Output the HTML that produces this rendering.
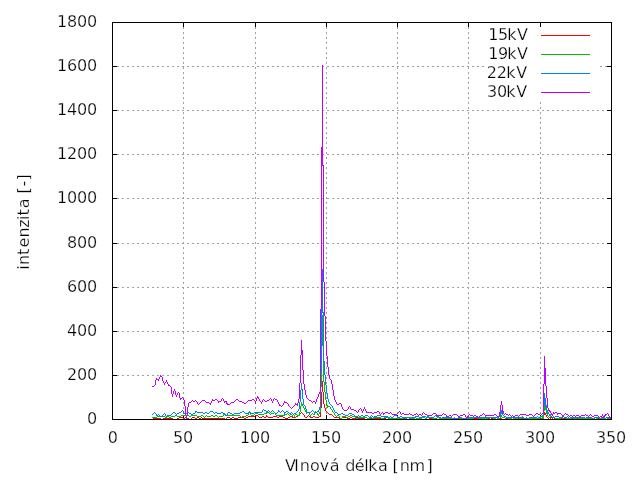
<!DOCTYPE html>
<html lang="cs"><head><meta charset="utf-8"><title>Spektrum</title>
<style>
html,body{margin:0;padding:0;background:#fff;overflow:hidden}
svg{display:block}
text{font-family:"DejaVu Sans","Liberation Sans",sans-serif;font-size:16px;fill:#000;stroke:#fff;stroke-width:0.25px;paint-order:fill stroke;white-space:pre}
</style></head><body>
<svg width="640" height="480" viewBox="0 0 640 480">
<rect width="640" height="480" fill="#fff"/>
<g shape-rendering="crispEdges">
<path fill="#a0a0a0" d="M112 375h2v1h-2zM117 375h2v1h-2zM122 375h2v1h-2zM127 375h2v1h-2zM132 375h2v1h-2zM137 375h2v1h-2zM142 375h2v1h-2zM147 375h2v1h-2zM152 375h2v1h-2zM157 375h2v1h-2zM162 375h2v1h-2zM167 375h2v1h-2zM172 375h2v1h-2zM177 375h2v1h-2zM182 375h2v1h-2zM187 375h2v1h-2zM192 375h2v1h-2zM197 375h2v1h-2zM202 375h2v1h-2zM207 375h2v1h-2zM212 375h2v1h-2zM217 375h2v1h-2zM222 375h2v1h-2zM227 375h2v1h-2zM232 375h2v1h-2zM237 375h2v1h-2zM242 375h2v1h-2zM247 375h2v1h-2zM252 375h2v1h-2zM257 375h2v1h-2zM262 375h2v1h-2zM267 375h2v1h-2zM272 375h2v1h-2zM277 375h2v1h-2zM282 375h2v1h-2zM287 375h2v1h-2zM292 375h2v1h-2zM297 375h2v1h-2zM302 375h2v1h-2zM307 375h2v1h-2zM312 375h2v1h-2zM317 375h2v1h-2zM322 375h2v1h-2zM327 375h2v1h-2zM332 375h2v1h-2zM337 375h2v1h-2zM342 375h2v1h-2zM347 375h2v1h-2zM352 375h2v1h-2zM357 375h2v1h-2zM362 375h2v1h-2zM367 375h2v1h-2zM372 375h2v1h-2zM377 375h2v1h-2zM382 375h2v1h-2zM387 375h2v1h-2zM392 375h2v1h-2zM397 375h2v1h-2zM402 375h2v1h-2zM407 375h2v1h-2zM412 375h2v1h-2zM417 375h2v1h-2zM422 375h2v1h-2zM427 375h2v1h-2zM432 375h2v1h-2zM437 375h2v1h-2zM442 375h2v1h-2zM447 375h2v1h-2zM452 375h2v1h-2zM457 375h2v1h-2zM462 375h2v1h-2zM467 375h2v1h-2zM472 375h2v1h-2zM477 375h2v1h-2zM482 375h2v1h-2zM487 375h2v1h-2zM492 375h2v1h-2zM497 375h2v1h-2zM502 375h2v1h-2zM507 375h2v1h-2zM512 375h2v1h-2zM517 375h2v1h-2zM522 375h2v1h-2zM527 375h2v1h-2zM532 375h2v1h-2zM537 375h2v1h-2zM542 375h2v1h-2zM547 375h2v1h-2zM552 375h2v1h-2zM557 375h2v1h-2zM562 375h2v1h-2zM567 375h2v1h-2zM572 375h2v1h-2zM577 375h2v1h-2zM582 375h2v1h-2zM587 375h2v1h-2zM592 375h2v1h-2zM597 375h2v1h-2zM602 375h2v1h-2zM607 375h2v1h-2zM112 331h2v1h-2zM117 331h2v1h-2zM122 331h2v1h-2zM127 331h2v1h-2zM132 331h2v1h-2zM137 331h2v1h-2zM142 331h2v1h-2zM147 331h2v1h-2zM152 331h2v1h-2zM157 331h2v1h-2zM162 331h2v1h-2zM167 331h2v1h-2zM172 331h2v1h-2zM177 331h2v1h-2zM182 331h2v1h-2zM187 331h2v1h-2zM192 331h2v1h-2zM197 331h2v1h-2zM202 331h2v1h-2zM207 331h2v1h-2zM212 331h2v1h-2zM217 331h2v1h-2zM222 331h2v1h-2zM227 331h2v1h-2zM232 331h2v1h-2zM237 331h2v1h-2zM242 331h2v1h-2zM247 331h2v1h-2zM252 331h2v1h-2zM257 331h2v1h-2zM262 331h2v1h-2zM267 331h2v1h-2zM272 331h2v1h-2zM277 331h2v1h-2zM282 331h2v1h-2zM287 331h2v1h-2zM292 331h2v1h-2zM297 331h2v1h-2zM302 331h2v1h-2zM307 331h2v1h-2zM312 331h2v1h-2zM317 331h2v1h-2zM322 331h2v1h-2zM327 331h2v1h-2zM332 331h2v1h-2zM337 331h2v1h-2zM342 331h2v1h-2zM347 331h2v1h-2zM352 331h2v1h-2zM357 331h2v1h-2zM362 331h2v1h-2zM367 331h2v1h-2zM372 331h2v1h-2zM377 331h2v1h-2zM382 331h2v1h-2zM387 331h2v1h-2zM392 331h2v1h-2zM397 331h2v1h-2zM402 331h2v1h-2zM407 331h2v1h-2zM412 331h2v1h-2zM417 331h2v1h-2zM422 331h2v1h-2zM427 331h2v1h-2zM432 331h2v1h-2zM437 331h2v1h-2zM442 331h2v1h-2zM447 331h2v1h-2zM452 331h2v1h-2zM457 331h2v1h-2zM462 331h2v1h-2zM467 331h2v1h-2zM472 331h2v1h-2zM477 331h2v1h-2zM482 331h2v1h-2zM487 331h2v1h-2zM492 331h2v1h-2zM497 331h2v1h-2zM502 331h2v1h-2zM507 331h2v1h-2zM512 331h2v1h-2zM517 331h2v1h-2zM522 331h2v1h-2zM527 331h2v1h-2zM532 331h2v1h-2zM537 331h2v1h-2zM542 331h2v1h-2zM547 331h2v1h-2zM552 331h2v1h-2zM557 331h2v1h-2zM562 331h2v1h-2zM567 331h2v1h-2zM572 331h2v1h-2zM577 331h2v1h-2zM582 331h2v1h-2zM587 331h2v1h-2zM592 331h2v1h-2zM597 331h2v1h-2zM602 331h2v1h-2zM607 331h2v1h-2zM112 287h2v1h-2zM117 287h2v1h-2zM122 287h2v1h-2zM127 287h2v1h-2zM132 287h2v1h-2zM137 287h2v1h-2zM142 287h2v1h-2zM147 287h2v1h-2zM152 287h2v1h-2zM157 287h2v1h-2zM162 287h2v1h-2zM167 287h2v1h-2zM172 287h2v1h-2zM177 287h2v1h-2zM182 287h2v1h-2zM187 287h2v1h-2zM192 287h2v1h-2zM197 287h2v1h-2zM202 287h2v1h-2zM207 287h2v1h-2zM212 287h2v1h-2zM217 287h2v1h-2zM222 287h2v1h-2zM227 287h2v1h-2zM232 287h2v1h-2zM237 287h2v1h-2zM242 287h2v1h-2zM247 287h2v1h-2zM252 287h2v1h-2zM257 287h2v1h-2zM262 287h2v1h-2zM267 287h2v1h-2zM272 287h2v1h-2zM277 287h2v1h-2zM282 287h2v1h-2zM287 287h2v1h-2zM292 287h2v1h-2zM297 287h2v1h-2zM302 287h2v1h-2zM307 287h2v1h-2zM312 287h2v1h-2zM317 287h2v1h-2zM322 287h2v1h-2zM327 287h2v1h-2zM332 287h2v1h-2zM337 287h2v1h-2zM342 287h2v1h-2zM347 287h2v1h-2zM352 287h2v1h-2zM357 287h2v1h-2zM362 287h2v1h-2zM367 287h2v1h-2zM372 287h2v1h-2zM377 287h2v1h-2zM382 287h2v1h-2zM387 287h2v1h-2zM392 287h2v1h-2zM397 287h2v1h-2zM402 287h2v1h-2zM407 287h2v1h-2zM412 287h2v1h-2zM417 287h2v1h-2zM422 287h2v1h-2zM427 287h2v1h-2zM432 287h2v1h-2zM437 287h2v1h-2zM442 287h2v1h-2zM447 287h2v1h-2zM452 287h2v1h-2zM457 287h2v1h-2zM462 287h2v1h-2zM467 287h2v1h-2zM472 287h2v1h-2zM477 287h2v1h-2zM482 287h2v1h-2zM487 287h2v1h-2zM492 287h2v1h-2zM497 287h2v1h-2zM502 287h2v1h-2zM507 287h2v1h-2zM512 287h2v1h-2zM517 287h2v1h-2zM522 287h2v1h-2zM527 287h2v1h-2zM532 287h2v1h-2zM537 287h2v1h-2zM542 287h2v1h-2zM547 287h2v1h-2zM552 287h2v1h-2zM557 287h2v1h-2zM562 287h2v1h-2zM567 287h2v1h-2zM572 287h2v1h-2zM577 287h2v1h-2zM582 287h2v1h-2zM587 287h2v1h-2zM592 287h2v1h-2zM597 287h2v1h-2zM602 287h2v1h-2zM607 287h2v1h-2zM112 243h2v1h-2zM117 243h2v1h-2zM122 243h2v1h-2zM127 243h2v1h-2zM132 243h2v1h-2zM137 243h2v1h-2zM142 243h2v1h-2zM147 243h2v1h-2zM152 243h2v1h-2zM157 243h2v1h-2zM162 243h2v1h-2zM167 243h2v1h-2zM172 243h2v1h-2zM177 243h2v1h-2zM182 243h2v1h-2zM187 243h2v1h-2zM192 243h2v1h-2zM197 243h2v1h-2zM202 243h2v1h-2zM207 243h2v1h-2zM212 243h2v1h-2zM217 243h2v1h-2zM222 243h2v1h-2zM227 243h2v1h-2zM232 243h2v1h-2zM237 243h2v1h-2zM242 243h2v1h-2zM247 243h2v1h-2zM252 243h2v1h-2zM257 243h2v1h-2zM262 243h2v1h-2zM267 243h2v1h-2zM272 243h2v1h-2zM277 243h2v1h-2zM282 243h2v1h-2zM287 243h2v1h-2zM292 243h2v1h-2zM297 243h2v1h-2zM302 243h2v1h-2zM307 243h2v1h-2zM312 243h2v1h-2zM317 243h2v1h-2zM322 243h2v1h-2zM327 243h2v1h-2zM332 243h2v1h-2zM337 243h2v1h-2zM342 243h2v1h-2zM347 243h2v1h-2zM352 243h2v1h-2zM357 243h2v1h-2zM362 243h2v1h-2zM367 243h2v1h-2zM372 243h2v1h-2zM377 243h2v1h-2zM382 243h2v1h-2zM387 243h2v1h-2zM392 243h2v1h-2zM397 243h2v1h-2zM402 243h2v1h-2zM407 243h2v1h-2zM412 243h2v1h-2zM417 243h2v1h-2zM422 243h2v1h-2zM427 243h2v1h-2zM432 243h2v1h-2zM437 243h2v1h-2zM442 243h2v1h-2zM447 243h2v1h-2zM452 243h2v1h-2zM457 243h2v1h-2zM462 243h2v1h-2zM467 243h2v1h-2zM472 243h2v1h-2zM477 243h2v1h-2zM482 243h2v1h-2zM487 243h2v1h-2zM492 243h2v1h-2zM497 243h2v1h-2zM502 243h2v1h-2zM507 243h2v1h-2zM512 243h2v1h-2zM517 243h2v1h-2zM522 243h2v1h-2zM527 243h2v1h-2zM532 243h2v1h-2zM537 243h2v1h-2zM542 243h2v1h-2zM547 243h2v1h-2zM552 243h2v1h-2zM557 243h2v1h-2zM562 243h2v1h-2zM567 243h2v1h-2zM572 243h2v1h-2zM577 243h2v1h-2zM582 243h2v1h-2zM587 243h2v1h-2zM592 243h2v1h-2zM597 243h2v1h-2zM602 243h2v1h-2zM607 243h2v1h-2zM112 198h2v1h-2zM117 198h2v1h-2zM122 198h2v1h-2zM127 198h2v1h-2zM132 198h2v1h-2zM137 198h2v1h-2zM142 198h2v1h-2zM147 198h2v1h-2zM152 198h2v1h-2zM157 198h2v1h-2zM162 198h2v1h-2zM167 198h2v1h-2zM172 198h2v1h-2zM177 198h2v1h-2zM182 198h2v1h-2zM187 198h2v1h-2zM192 198h2v1h-2zM197 198h2v1h-2zM202 198h2v1h-2zM207 198h2v1h-2zM212 198h2v1h-2zM217 198h2v1h-2zM222 198h2v1h-2zM227 198h2v1h-2zM232 198h2v1h-2zM237 198h2v1h-2zM242 198h2v1h-2zM247 198h2v1h-2zM252 198h2v1h-2zM257 198h2v1h-2zM262 198h2v1h-2zM267 198h2v1h-2zM272 198h2v1h-2zM277 198h2v1h-2zM282 198h2v1h-2zM287 198h2v1h-2zM292 198h2v1h-2zM297 198h2v1h-2zM302 198h2v1h-2zM307 198h2v1h-2zM312 198h2v1h-2zM317 198h2v1h-2zM322 198h2v1h-2zM327 198h2v1h-2zM332 198h2v1h-2zM337 198h2v1h-2zM342 198h2v1h-2zM347 198h2v1h-2zM352 198h2v1h-2zM357 198h2v1h-2zM362 198h2v1h-2zM367 198h2v1h-2zM372 198h2v1h-2zM377 198h2v1h-2zM382 198h2v1h-2zM387 198h2v1h-2zM392 198h2v1h-2zM397 198h2v1h-2zM402 198h2v1h-2zM407 198h2v1h-2zM412 198h2v1h-2zM417 198h2v1h-2zM422 198h2v1h-2zM427 198h2v1h-2zM432 198h2v1h-2zM437 198h2v1h-2zM442 198h2v1h-2zM447 198h2v1h-2zM452 198h2v1h-2zM457 198h2v1h-2zM462 198h2v1h-2zM467 198h2v1h-2zM472 198h2v1h-2zM477 198h2v1h-2zM482 198h2v1h-2zM487 198h2v1h-2zM492 198h2v1h-2zM497 198h2v1h-2zM502 198h2v1h-2zM507 198h2v1h-2zM512 198h2v1h-2zM517 198h2v1h-2zM522 198h2v1h-2zM527 198h2v1h-2zM532 198h2v1h-2zM537 198h2v1h-2zM542 198h2v1h-2zM547 198h2v1h-2zM552 198h2v1h-2zM557 198h2v1h-2zM562 198h2v1h-2zM567 198h2v1h-2zM572 198h2v1h-2zM577 198h2v1h-2zM582 198h2v1h-2zM587 198h2v1h-2zM592 198h2v1h-2zM597 198h2v1h-2zM602 198h2v1h-2zM607 198h2v1h-2zM112 154h2v1h-2zM117 154h2v1h-2zM122 154h2v1h-2zM127 154h2v1h-2zM132 154h2v1h-2zM137 154h2v1h-2zM142 154h2v1h-2zM147 154h2v1h-2zM152 154h2v1h-2zM157 154h2v1h-2zM162 154h2v1h-2zM167 154h2v1h-2zM172 154h2v1h-2zM177 154h2v1h-2zM182 154h2v1h-2zM187 154h2v1h-2zM192 154h2v1h-2zM197 154h2v1h-2zM202 154h2v1h-2zM207 154h2v1h-2zM212 154h2v1h-2zM217 154h2v1h-2zM222 154h2v1h-2zM227 154h2v1h-2zM232 154h2v1h-2zM237 154h2v1h-2zM242 154h2v1h-2zM247 154h2v1h-2zM252 154h2v1h-2zM257 154h2v1h-2zM262 154h2v1h-2zM267 154h2v1h-2zM272 154h2v1h-2zM277 154h2v1h-2zM282 154h2v1h-2zM287 154h2v1h-2zM292 154h2v1h-2zM297 154h2v1h-2zM302 154h2v1h-2zM307 154h2v1h-2zM312 154h2v1h-2zM317 154h2v1h-2zM322 154h2v1h-2zM327 154h2v1h-2zM332 154h2v1h-2zM337 154h2v1h-2zM342 154h2v1h-2zM347 154h2v1h-2zM352 154h2v1h-2zM357 154h2v1h-2zM362 154h2v1h-2zM367 154h2v1h-2zM372 154h2v1h-2zM377 154h2v1h-2zM382 154h2v1h-2zM387 154h2v1h-2zM392 154h2v1h-2zM397 154h2v1h-2zM402 154h2v1h-2zM407 154h2v1h-2zM412 154h2v1h-2zM417 154h2v1h-2zM422 154h2v1h-2zM427 154h2v1h-2zM432 154h2v1h-2zM437 154h2v1h-2zM442 154h2v1h-2zM447 154h2v1h-2zM452 154h2v1h-2zM457 154h2v1h-2zM462 154h2v1h-2zM467 154h2v1h-2zM472 154h2v1h-2zM477 154h2v1h-2zM482 154h2v1h-2zM487 154h2v1h-2zM492 154h2v1h-2zM497 154h2v1h-2zM502 154h2v1h-2zM507 154h2v1h-2zM512 154h2v1h-2zM517 154h2v1h-2zM522 154h2v1h-2zM527 154h2v1h-2zM532 154h2v1h-2zM537 154h2v1h-2zM542 154h2v1h-2zM547 154h2v1h-2zM552 154h2v1h-2zM557 154h2v1h-2zM562 154h2v1h-2zM567 154h2v1h-2zM572 154h2v1h-2zM577 154h2v1h-2zM582 154h2v1h-2zM587 154h2v1h-2zM592 154h2v1h-2zM597 154h2v1h-2zM602 154h2v1h-2zM607 154h2v1h-2zM112 110h2v1h-2zM117 110h2v1h-2zM122 110h2v1h-2zM127 110h2v1h-2zM132 110h2v1h-2zM137 110h2v1h-2zM142 110h2v1h-2zM147 110h2v1h-2zM152 110h2v1h-2zM157 110h2v1h-2zM162 110h2v1h-2zM167 110h2v1h-2zM172 110h2v1h-2zM177 110h2v1h-2zM182 110h2v1h-2zM187 110h2v1h-2zM192 110h2v1h-2zM197 110h2v1h-2zM202 110h2v1h-2zM207 110h2v1h-2zM212 110h2v1h-2zM217 110h2v1h-2zM222 110h2v1h-2zM227 110h2v1h-2zM232 110h2v1h-2zM237 110h2v1h-2zM242 110h2v1h-2zM247 110h2v1h-2zM252 110h2v1h-2zM257 110h2v1h-2zM262 110h2v1h-2zM267 110h2v1h-2zM272 110h2v1h-2zM277 110h2v1h-2zM282 110h2v1h-2zM287 110h2v1h-2zM292 110h2v1h-2zM297 110h2v1h-2zM302 110h2v1h-2zM307 110h2v1h-2zM312 110h2v1h-2zM317 110h2v1h-2zM322 110h2v1h-2zM327 110h2v1h-2zM332 110h2v1h-2zM337 110h2v1h-2zM342 110h2v1h-2zM347 110h2v1h-2zM352 110h2v1h-2zM357 110h2v1h-2zM362 110h2v1h-2zM367 110h2v1h-2zM372 110h2v1h-2zM377 110h2v1h-2zM382 110h2v1h-2zM387 110h2v1h-2zM392 110h2v1h-2zM397 110h2v1h-2zM402 110h2v1h-2zM407 110h2v1h-2zM412 110h2v1h-2zM417 110h2v1h-2zM422 110h2v1h-2zM427 110h2v1h-2zM432 110h2v1h-2zM437 110h2v1h-2zM442 110h2v1h-2zM447 110h2v1h-2zM452 110h2v1h-2zM457 110h2v1h-2zM462 110h2v1h-2zM467 110h2v1h-2zM472 110h2v1h-2zM477 110h2v1h-2zM482 110h2v1h-2zM487 110h2v1h-2zM492 110h2v1h-2zM497 110h2v1h-2zM502 110h2v1h-2zM507 110h2v1h-2zM512 110h2v1h-2zM517 110h2v1h-2zM522 110h2v1h-2zM527 110h2v1h-2zM532 110h2v1h-2zM537 110h2v1h-2zM542 110h2v1h-2zM547 110h2v1h-2zM552 110h2v1h-2zM557 110h2v1h-2zM562 110h2v1h-2zM567 110h2v1h-2zM572 110h2v1h-2zM577 110h2v1h-2zM582 110h2v1h-2zM587 110h2v1h-2zM592 110h2v1h-2zM597 110h2v1h-2zM602 110h2v1h-2zM607 110h2v1h-2zM112 66h2v1h-2zM117 66h2v1h-2zM122 66h2v1h-2zM127 66h2v1h-2zM132 66h2v1h-2zM137 66h2v1h-2zM142 66h2v1h-2zM147 66h2v1h-2zM152 66h2v1h-2zM157 66h2v1h-2zM162 66h2v1h-2zM167 66h2v1h-2zM172 66h2v1h-2zM177 66h2v1h-2zM182 66h2v1h-2zM187 66h2v1h-2zM192 66h2v1h-2zM197 66h2v1h-2zM202 66h2v1h-2zM207 66h2v1h-2zM212 66h2v1h-2zM217 66h2v1h-2zM222 66h2v1h-2zM227 66h2v1h-2zM232 66h2v1h-2zM237 66h2v1h-2zM242 66h2v1h-2zM247 66h2v1h-2zM252 66h2v1h-2zM257 66h2v1h-2zM262 66h2v1h-2zM267 66h2v1h-2zM272 66h2v1h-2zM277 66h2v1h-2zM282 66h2v1h-2zM287 66h2v1h-2zM292 66h2v1h-2zM297 66h2v1h-2zM302 66h2v1h-2zM307 66h2v1h-2zM312 66h2v1h-2zM317 66h2v1h-2zM322 66h2v1h-2zM327 66h2v1h-2zM332 66h2v1h-2zM337 66h2v1h-2zM342 66h2v1h-2zM347 66h2v1h-2zM352 66h2v1h-2zM357 66h2v1h-2zM362 66h2v1h-2zM367 66h2v1h-2zM372 66h2v1h-2zM377 66h2v1h-2zM382 66h2v1h-2zM387 66h2v1h-2zM392 66h2v1h-2zM397 66h2v1h-2zM402 66h2v1h-2zM407 66h2v1h-2zM412 66h2v1h-2zM417 66h2v1h-2zM422 66h2v1h-2zM427 66h2v1h-2zM432 66h2v1h-2zM437 66h2v1h-2zM442 66h2v1h-2zM447 66h2v1h-2zM452 66h2v1h-2zM457 66h2v1h-2zM462 66h2v1h-2zM467 66h2v1h-2zM472 66h2v1h-2zM477 66h2v1h-2zM482 66h2v1h-2zM600 66h2v1h-2zM605 66h2v1h-2zM610 66h2v1h-2zM183 417h1v2h-1zM183 412h1v2h-1zM183 407h1v2h-1zM183 402h1v2h-1zM183 397h1v2h-1zM183 392h1v2h-1zM183 387h1v2h-1zM183 382h1v2h-1zM183 377h1v2h-1zM183 372h1v2h-1zM183 367h1v2h-1zM183 362h1v2h-1zM183 357h1v2h-1zM183 352h1v2h-1zM183 347h1v2h-1zM183 342h1v2h-1zM183 337h1v2h-1zM183 332h1v2h-1zM183 327h1v2h-1zM183 322h1v2h-1zM183 317h1v2h-1zM183 312h1v2h-1zM183 307h1v2h-1zM183 302h1v2h-1zM183 297h1v2h-1zM183 292h1v2h-1zM183 287h1v2h-1zM183 282h1v2h-1zM183 277h1v2h-1zM183 272h1v2h-1zM183 267h1v2h-1zM183 262h1v2h-1zM183 257h1v2h-1zM183 252h1v2h-1zM183 247h1v2h-1zM183 242h1v2h-1zM183 237h1v2h-1zM183 232h1v2h-1zM183 227h1v2h-1zM183 222h1v2h-1zM183 217h1v2h-1zM183 212h1v2h-1zM183 207h1v2h-1zM183 202h1v2h-1zM183 197h1v2h-1zM183 192h1v2h-1zM183 187h1v2h-1zM183 182h1v2h-1zM183 177h1v2h-1zM183 172h1v2h-1zM183 167h1v2h-1zM183 162h1v2h-1zM183 157h1v2h-1zM183 152h1v2h-1zM183 147h1v2h-1zM183 142h1v2h-1zM183 137h1v2h-1zM183 132h1v2h-1zM183 127h1v2h-1zM183 122h1v2h-1zM183 117h1v2h-1zM183 112h1v2h-1zM183 107h1v2h-1zM183 102h1v2h-1zM183 97h1v2h-1zM183 92h1v2h-1zM183 87h1v2h-1zM183 82h1v2h-1zM183 77h1v2h-1zM183 72h1v2h-1zM183 67h1v2h-1zM183 62h1v2h-1zM183 57h1v2h-1zM183 52h1v2h-1zM183 47h1v2h-1zM183 42h1v2h-1zM183 37h1v2h-1zM183 32h1v2h-1zM183 27h1v2h-1zM183 22h1v2h-1zM255 417h1v2h-1zM255 412h1v2h-1zM255 407h1v2h-1zM255 402h1v2h-1zM255 397h1v2h-1zM255 392h1v2h-1zM255 387h1v2h-1zM255 382h1v2h-1zM255 377h1v2h-1zM255 372h1v2h-1zM255 367h1v2h-1zM255 362h1v2h-1zM255 357h1v2h-1zM255 352h1v2h-1zM255 347h1v2h-1zM255 342h1v2h-1zM255 337h1v2h-1zM255 332h1v2h-1zM255 327h1v2h-1zM255 322h1v2h-1zM255 317h1v2h-1zM255 312h1v2h-1zM255 307h1v2h-1zM255 302h1v2h-1zM255 297h1v2h-1zM255 292h1v2h-1zM255 287h1v2h-1zM255 282h1v2h-1zM255 277h1v2h-1zM255 272h1v2h-1zM255 267h1v2h-1zM255 262h1v2h-1zM255 257h1v2h-1zM255 252h1v2h-1zM255 247h1v2h-1zM255 242h1v2h-1zM255 237h1v2h-1zM255 232h1v2h-1zM255 227h1v2h-1zM255 222h1v2h-1zM255 217h1v2h-1zM255 212h1v2h-1zM255 207h1v2h-1zM255 202h1v2h-1zM255 197h1v2h-1zM255 192h1v2h-1zM255 187h1v2h-1zM255 182h1v2h-1zM255 177h1v2h-1zM255 172h1v2h-1zM255 167h1v2h-1zM255 162h1v2h-1zM255 157h1v2h-1zM255 152h1v2h-1zM255 147h1v2h-1zM255 142h1v2h-1zM255 137h1v2h-1zM255 132h1v2h-1zM255 127h1v2h-1zM255 122h1v2h-1zM255 117h1v2h-1zM255 112h1v2h-1zM255 107h1v2h-1zM255 102h1v2h-1zM255 97h1v2h-1zM255 92h1v2h-1zM255 87h1v2h-1zM255 82h1v2h-1zM255 77h1v2h-1zM255 72h1v2h-1zM255 67h1v2h-1zM255 62h1v2h-1zM255 57h1v2h-1zM255 52h1v2h-1zM255 47h1v2h-1zM255 42h1v2h-1zM255 37h1v2h-1zM255 32h1v2h-1zM255 27h1v2h-1zM255 22h1v2h-1zM326 417h1v2h-1zM326 412h1v2h-1zM326 407h1v2h-1zM326 402h1v2h-1zM326 397h1v2h-1zM326 392h1v2h-1zM326 387h1v2h-1zM326 382h1v2h-1zM326 377h1v2h-1zM326 372h1v2h-1zM326 367h1v2h-1zM326 362h1v2h-1zM326 357h1v2h-1zM326 352h1v2h-1zM326 347h1v2h-1zM326 342h1v2h-1zM326 337h1v2h-1zM326 332h1v2h-1zM326 327h1v2h-1zM326 322h1v2h-1zM326 317h1v2h-1zM326 312h1v2h-1zM326 307h1v2h-1zM326 302h1v2h-1zM326 297h1v2h-1zM326 292h1v2h-1zM326 287h1v2h-1zM326 282h1v2h-1zM326 277h1v2h-1zM326 272h1v2h-1zM326 267h1v2h-1zM326 262h1v2h-1zM326 257h1v2h-1zM326 252h1v2h-1zM326 247h1v2h-1zM326 242h1v2h-1zM326 237h1v2h-1zM326 232h1v2h-1zM326 227h1v2h-1zM326 222h1v2h-1zM326 217h1v2h-1zM326 212h1v2h-1zM326 207h1v2h-1zM326 202h1v2h-1zM326 197h1v2h-1zM326 192h1v2h-1zM326 187h1v2h-1zM326 182h1v2h-1zM326 177h1v2h-1zM326 172h1v2h-1zM326 167h1v2h-1zM326 162h1v2h-1zM326 157h1v2h-1zM326 152h1v2h-1zM326 147h1v2h-1zM326 142h1v2h-1zM326 137h1v2h-1zM326 132h1v2h-1zM326 127h1v2h-1zM326 122h1v2h-1zM326 117h1v2h-1zM326 112h1v2h-1zM326 107h1v2h-1zM326 102h1v2h-1zM326 97h1v2h-1zM326 92h1v2h-1zM326 87h1v2h-1zM326 82h1v2h-1zM326 77h1v2h-1zM326 72h1v2h-1zM326 67h1v2h-1zM326 62h1v2h-1zM326 57h1v2h-1zM326 52h1v2h-1zM326 47h1v2h-1zM326 42h1v2h-1zM326 37h1v2h-1zM326 32h1v2h-1zM326 27h1v2h-1zM326 22h1v2h-1zM397 417h1v2h-1zM397 412h1v2h-1zM397 407h1v2h-1zM397 402h1v2h-1zM397 397h1v2h-1zM397 392h1v2h-1zM397 387h1v2h-1zM397 382h1v2h-1zM397 377h1v2h-1zM397 372h1v2h-1zM397 367h1v2h-1zM397 362h1v2h-1zM397 357h1v2h-1zM397 352h1v2h-1zM397 347h1v2h-1zM397 342h1v2h-1zM397 337h1v2h-1zM397 332h1v2h-1zM397 327h1v2h-1zM397 322h1v2h-1zM397 317h1v2h-1zM397 312h1v2h-1zM397 307h1v2h-1zM397 302h1v2h-1zM397 297h1v2h-1zM397 292h1v2h-1zM397 287h1v2h-1zM397 282h1v2h-1zM397 277h1v2h-1zM397 272h1v2h-1zM397 267h1v2h-1zM397 262h1v2h-1zM397 257h1v2h-1zM397 252h1v2h-1zM397 247h1v2h-1zM397 242h1v2h-1zM397 237h1v2h-1zM397 232h1v2h-1zM397 227h1v2h-1zM397 222h1v2h-1zM397 217h1v2h-1zM397 212h1v2h-1zM397 207h1v2h-1zM397 202h1v2h-1zM397 197h1v2h-1zM397 192h1v2h-1zM397 187h1v2h-1zM397 182h1v2h-1zM397 177h1v2h-1zM397 172h1v2h-1zM397 167h1v2h-1zM397 162h1v2h-1zM397 157h1v2h-1zM397 152h1v2h-1zM397 147h1v2h-1zM397 142h1v2h-1zM397 137h1v2h-1zM397 132h1v2h-1zM397 127h1v2h-1zM397 122h1v2h-1zM397 117h1v2h-1zM397 112h1v2h-1zM397 107h1v2h-1zM397 102h1v2h-1zM397 97h1v2h-1zM397 92h1v2h-1zM397 87h1v2h-1zM397 82h1v2h-1zM397 77h1v2h-1zM397 72h1v2h-1zM397 67h1v2h-1zM397 62h1v2h-1zM397 57h1v2h-1zM397 52h1v2h-1zM397 47h1v2h-1zM397 42h1v2h-1zM397 37h1v2h-1zM397 32h1v2h-1zM397 27h1v2h-1zM397 22h1v2h-1zM468 417h1v2h-1zM468 412h1v2h-1zM468 407h1v2h-1zM468 402h1v2h-1zM468 397h1v2h-1zM468 392h1v2h-1zM468 387h1v2h-1zM468 382h1v2h-1zM468 377h1v2h-1zM468 372h1v2h-1zM468 367h1v2h-1zM468 362h1v2h-1zM468 357h1v2h-1zM468 352h1v2h-1zM468 347h1v2h-1zM468 342h1v2h-1zM468 337h1v2h-1zM468 332h1v2h-1zM468 327h1v2h-1zM468 322h1v2h-1zM468 317h1v2h-1zM468 312h1v2h-1zM468 307h1v2h-1zM468 302h1v2h-1zM468 297h1v2h-1zM468 292h1v2h-1zM468 287h1v2h-1zM468 282h1v2h-1zM468 277h1v2h-1zM468 272h1v2h-1zM468 267h1v2h-1zM468 262h1v2h-1zM468 257h1v2h-1zM468 252h1v2h-1zM468 247h1v2h-1zM468 242h1v2h-1zM468 237h1v2h-1zM468 232h1v2h-1zM468 227h1v2h-1zM468 222h1v2h-1zM468 217h1v2h-1zM468 212h1v2h-1zM468 207h1v2h-1zM468 202h1v2h-1zM468 197h1v2h-1zM468 192h1v2h-1zM468 187h1v2h-1zM468 182h1v2h-1zM468 177h1v2h-1zM468 172h1v2h-1zM468 167h1v2h-1zM468 162h1v2h-1zM468 157h1v2h-1zM468 152h1v2h-1zM468 147h1v2h-1zM468 142h1v2h-1zM468 137h1v2h-1zM468 132h1v2h-1zM468 127h1v2h-1zM468 122h1v2h-1zM468 117h1v2h-1zM468 112h1v2h-1zM468 107h1v2h-1zM468 102h1v2h-1zM468 97h1v2h-1zM468 92h1v2h-1zM468 87h1v2h-1zM468 82h1v2h-1zM468 77h1v2h-1zM468 72h1v2h-1zM468 67h1v2h-1zM468 62h1v2h-1zM468 57h1v2h-1zM468 52h1v2h-1zM468 47h1v2h-1zM468 42h1v2h-1zM468 37h1v2h-1zM468 32h1v2h-1zM468 27h1v2h-1zM468 22h1v2h-1zM540 417h1v2h-1zM540 412h1v2h-1zM540 407h1v2h-1zM540 402h1v2h-1zM540 397h1v2h-1zM540 392h1v2h-1zM540 387h1v2h-1zM540 382h1v2h-1zM540 377h1v2h-1zM540 372h1v2h-1zM540 367h1v2h-1zM540 362h1v2h-1zM540 357h1v2h-1zM540 352h1v2h-1zM540 347h1v2h-1zM540 342h1v2h-1zM540 337h1v2h-1zM540 332h1v2h-1zM540 327h1v2h-1zM540 322h1v2h-1zM540 317h1v2h-1zM540 312h1v2h-1zM540 307h1v2h-1zM540 302h1v2h-1zM540 297h1v2h-1zM540 292h1v2h-1zM540 287h1v2h-1zM540 282h1v2h-1zM540 277h1v2h-1zM540 272h1v2h-1zM540 267h1v2h-1zM540 262h1v2h-1zM540 257h1v2h-1zM540 252h1v2h-1zM540 247h1v2h-1zM540 242h1v2h-1zM540 237h1v2h-1zM540 232h1v2h-1zM540 227h1v2h-1zM540 222h1v2h-1zM540 217h1v2h-1zM540 212h1v2h-1zM540 207h1v2h-1zM540 202h1v2h-1zM540 197h1v2h-1zM540 192h1v2h-1zM540 187h1v2h-1zM540 182h1v2h-1zM540 177h1v2h-1zM540 172h1v2h-1zM540 167h1v2h-1zM540 162h1v2h-1zM540 157h1v2h-1zM540 152h1v2h-1zM540 147h1v2h-1zM540 142h1v2h-1zM540 137h1v2h-1zM540 132h1v2h-1zM540 127h1v2h-1zM540 122h1v2h-1zM540 117h1v2h-1zM540 112h1v2h-1zM540 107h1v2h-1zM540 102h1v2h-1z"/>
<path fill="#000" d="M112 419h5v1h-5zM607 419h5v1h-5zM112 375h5v1h-5zM607 375h5v1h-5zM112 331h5v1h-5zM607 331h5v1h-5zM112 287h5v1h-5zM607 287h5v1h-5zM112 243h5v1h-5zM607 243h5v1h-5zM112 198h5v1h-5zM607 198h5v1h-5zM112 154h5v1h-5zM607 154h5v1h-5zM112 110h5v1h-5zM607 110h5v1h-5zM112 66h5v1h-5zM607 66h5v1h-5zM112 22h5v1h-5zM607 22h5v1h-5zM112 415h1v5h-1zM112 22h1v5h-1zM183 415h1v5h-1zM183 22h1v5h-1zM255 415h1v5h-1zM255 22h1v5h-1zM326 415h1v5h-1zM326 22h1v5h-1zM397 415h1v5h-1zM397 22h1v5h-1zM468 415h1v5h-1zM468 22h1v5h-1zM540 415h1v5h-1zM540 22h1v5h-1zM611 415h1v5h-1zM611 22h1v5h-1z"/>
<path fill="#ff0000" d="M153 418h8v1h-8zM163 418h10v1h-10zM177 418h2v1h-2zM179 417h4v1h-4zM183 418h2v1h-2zM185 417h2v1h-2zM187 418h2v1h-2zM191 418h1v1h-1zM192 417h3v1h-3zM195 418h2v1h-2zM197 417h2v1h-2zM199 418h2v1h-2zM201 417h1v1h-1zM202 418h23v1h-23zM226 418h1v1h-1zM227 417h3v1h-3zM230 418h2v1h-2zM232 417h2v1h-2zM234 418h4v1h-4zM238 417h6v1h-6zM244 418h2v1h-2zM246 417h2v1h-2zM248 416h7v1h-7zM255 415h3v1h-3zM258 416h1v1h-1zM259 417h3v1h-3zM262 416h2v1h-2zM264 417h2v1h-2zM266 415h1v2h-1zM267 416h1v1h-1zM268 417h5v1h-5zM273 416h4v1h-4zM277 417h2v1h-2zM279 416h4v1h-4zM283 417h2v1h-2zM285 418h3v1h-3zM288 417h2v1h-2zM290 416h2v1h-2zM292 417h4v1h-4zM296 416h2v1h-2zM298 415h1v1h-1zM299 414h1v1h-1zM300 413h1v1h-1zM301 412h1v1h-1zM302 413h1v1h-1zM303 414h1v1h-1zM304 415h1v2h-1zM305 417h2v1h-2zM307 416h1v1h-1zM308 415h1v1h-1zM309 416h1v1h-1zM310 417h3v1h-3zM313 416h2v1h-2zM315 417h4v1h-4zM319 416h1v1h-1zM320 408h1v9h-1zM321 392h1v16h-1zM322 381h1v11h-1zM323 392h1v12h-1zM324 404h1v4h-1zM325 408h1v3h-1zM326 411h1v1h-1zM327 412h1v1h-1zM328 413h1v1h-1zM329 414h3v1h-3zM332 415h1v1h-1zM333 416h1v1h-1zM334 417h5v1h-5zM339 418h3v1h-3zM342 417h5v1h-5zM347 418h3v1h-3zM350 417h2v1h-2zM352 418h4v1h-4zM356 417h2v1h-2zM358 418h7v1h-7zM370 418h2v1h-2zM374 418h7v1h-7zM384 418h2v1h-2zM404 418h1v1h-1zM429 418h3v1h-3zM436 418h1v1h-1zM446 417h1v2h-1zM457 418h2v1h-2zM474 418h4v1h-4zM488 418h1v1h-1zM491 418h2v1h-2zM500 418h2v1h-2zM506 418h2v1h-2zM518 418h1v1h-1zM522 418h1v1h-1zM540 418h1v1h-1zM542 418h1v1h-1zM543 415h1v4h-1zM544 412h1v3h-1zM545 413h1v2h-1zM546 415h1v2h-1zM547 417h1v1h-1zM548 418h1v1h-1zM550 417h1v2h-1zM551 417h1v1h-1zM552 418h1v1h-1zM554 418h1v1h-1zM561 418h1v1h-1zM563 418h3v1h-3zM572 418h1v1h-1zM577 418h1v1h-1zM592 418h2v1h-2zM598 418h1v1h-1z"/>
<path fill="#00c000" d="M152 417h5v1h-5zM157 416h8v1h-8zM165 417h2v1h-2zM167 416h2v1h-2zM169 417h2v1h-2zM171 416h4v1h-4zM175 415h2v1h-2zM177 416h4v1h-4zM181 415h8v1h-8zM189 416h2v1h-2zM191 415h6v1h-6zM197 416h4v1h-4zM201 415h2v1h-2zM203 416h1v1h-1zM204 417h1v1h-1zM205 416h1v1h-1zM206 415h1v1h-1zM207 416h4v1h-4zM211 415h2v1h-2zM213 416h2v1h-2zM215 415h2v1h-2zM217 416h1v1h-1zM218 417h1v1h-1zM219 416h4v1h-4zM223 414h1v2h-1zM224 413h1v1h-1zM225 414h1v1h-1zM226 415h14v1h-14zM240 416h1v1h-1zM241 417h1v1h-1zM242 416h4v1h-4zM246 415h2v1h-2zM248 412h1v3h-1zM249 411h1v1h-1zM250 412h1v3h-1zM251 415h3v1h-3zM254 414h1v1h-1zM255 413h3v1h-3zM258 414h6v1h-6zM264 413h3v1h-3zM267 412h2v1h-2zM269 413h1v1h-1zM270 414h1v1h-1zM271 413h3v1h-3zM274 412h1v1h-1zM275 413h1v2h-1zM276 415h9v1h-9zM285 414h2v1h-2zM287 413h1v1h-1zM288 414h1v1h-1zM289 415h1v1h-1zM290 414h2v1h-2zM292 415h1v2h-1zM293 417h1v1h-1zM294 415h1v2h-1zM295 414h2v1h-2zM297 415h2v1h-2zM299 412h1v4h-1zM300 406h1v6h-1zM301 402h1v4h-1zM302 404h1v2h-1zM303 406h1v2h-1zM304 408h1v2h-1zM305 410h1v2h-1zM306 412h1v2h-1zM307 412h2v1h-2zM309 413h1v2h-1zM310 415h1v2h-1zM311 414h1v1h-1zM312 413h1v1h-1zM313 414h1v1h-1zM314 413h1v2h-1zM315 411h1v2h-1zM316 412h1v1h-1zM317 413h1v2h-1zM318 414h1v2h-1zM319 412h1v2h-1zM320 387h1v25h-1zM321 346h1v41h-1zM322 315h1v31h-1zM323 346h1v36h-1zM324 382h1v10h-1zM325 392h1v8h-1zM326 400h1v6h-1zM327 405h1v3h-1zM328 406h2v1h-2zM330 407h1v2h-1zM331 409h1v1h-1zM332 410h1v2h-1zM333 412h1v1h-1zM334 413h1v2h-1zM335 415h1v1h-1zM336 416h1v1h-1zM337 415h2v1h-2zM339 416h1v2h-1zM340 418h2v1h-2zM342 416h1v2h-1zM343 416h3v1h-3zM346 417h2v1h-2zM348 416h2v1h-2zM350 415h2v1h-2zM352 416h3v1h-3zM355 417h1v1h-1zM356 418h2v1h-2zM358 417h9v1h-9zM367 418h3v1h-3zM370 417h2v1h-2zM372 418h2v1h-2zM374 417h7v1h-7zM381 418h3v1h-3zM384 417h4v1h-4zM388 418h16v1h-16zM405 417h7v1h-7zM412 418h3v1h-3zM415 416h1v2h-1zM416 418h6v1h-6zM422 417h3v1h-3zM425 418h2v1h-2zM427 417h2v1h-2zM432 418h4v1h-4zM437 417h2v1h-2zM439 418h15v1h-15zM454 417h1v1h-1zM455 418h2v1h-2zM459 418h15v1h-15zM478 418h10v1h-10zM489 418h1v1h-1zM493 418h3v1h-3zM497 418h3v1h-3zM500 416h1v2h-1zM501 415h1v2h-1zM502 417h3v1h-3zM505 418h1v1h-1zM508 418h4v1h-4zM513 418h5v1h-5zM519 418h3v1h-3zM522 417h1v1h-1zM523 418h17v1h-17zM540 417h1v1h-1zM541 418h1v1h-1zM542 416h1v2h-1zM543 411h1v8h-1zM544 400h1v11h-1zM545 400h1v10h-1zM546 410h1v4h-1zM547 414h1v2h-1zM548 416h1v1h-1zM549 417h1v1h-1zM550 416h2v1h-2zM552 417h2v1h-2zM555 418h6v1h-6zM562 418h1v1h-1zM566 418h6v1h-6zM573 418h4v1h-4zM578 418h7v1h-7zM586 418h6v1h-6zM594 418h1v1h-1zM596 418h2v1h-2zM599 418h6v1h-6zM607 418h4v1h-4z"/>
<path fill="#0080ff" d="M152 414h1v1h-1zM153 413h1v1h-1zM154 412h1v1h-1zM155 413h1v1h-1zM156 414h1v2h-1zM157 415h1v1h-1zM158 414h1v1h-1zM159 415h1v1h-1zM160 416h2v1h-2zM162 415h1v1h-1zM163 414h1v1h-1zM164 413h1v1h-1zM165 414h1v2h-1zM166 416h1v1h-1zM167 415h4v1h-4zM171 414h1v1h-1zM172 413h1v1h-1zM173 412h2v1h-2zM175 413h1v1h-1zM176 414h1v1h-1zM177 413h2v1h-2zM179 412h2v1h-2zM181 411h1v1h-1zM182 410h1v1h-1zM183 411h1v3h-1zM184 413h4v1h-4zM188 412h1v1h-1zM189 413h2v1h-2zM191 414h2v1h-2zM193 413h2v1h-2zM195 411h1v2h-1zM196 411h1v1h-1zM197 412h6v1h-6zM203 413h2v1h-2zM205 412h2v1h-2zM207 413h2v1h-2zM209 412h1v1h-1zM210 411h3v1h-3zM213 412h1v1h-1zM214 413h1v1h-1zM215 412h2v1h-2zM217 413h4v1h-4zM221 412h2v1h-2zM223 413h1v1h-1zM224 414h1v1h-1zM225 415h2v1h-2zM227 413h1v2h-1zM228 412h2v1h-2zM230 413h2v1h-2zM232 414h2v1h-2zM234 413h6v1h-6zM240 412h2v1h-2zM242 411h2v1h-2zM244 412h1v1h-1zM245 413h4v1h-4zM249 411h1v2h-1zM250 413h4v1h-4zM254 412h8v1h-8zM262 410h1v2h-1zM263 409h1v1h-1zM264 410h2v1h-2zM266 411h1v2h-1zM267 411h1v1h-1zM268 410h1v1h-1zM269 411h1v1h-1zM270 412h1v1h-1zM271 411h1v1h-1zM272 410h1v1h-1zM273 411h1v1h-1zM274 412h1v1h-1zM275 413h2v1h-2zM277 412h1v1h-1zM278 410h1v2h-1zM279 411h1v1h-1zM280 412h1v1h-1zM281 411h1v1h-1zM282 410h1v1h-1zM283 411h1v1h-1zM284 412h1v3h-1zM285 412h1v1h-1zM286 411h2v1h-2zM288 412h1v1h-1zM289 413h2v1h-2zM291 412h1v1h-1zM292 413h1v1h-1zM293 414h1v1h-1zM294 413h2v1h-2zM296 412h1v1h-1zM297 411h1v1h-1zM298 409h1v2h-1zM299 402h1v7h-1zM300 390h1v12h-1zM301 383h1v7h-1zM302 389h1v10h-1zM303 399h1v6h-1zM304 405h1v1h-1zM305 406h1v3h-1zM306 409h1v4h-1zM307 412h4v1h-4zM311 411h1v1h-1zM312 410h1v1h-1zM313 411h1v1h-1zM314 412h3v1h-3zM317 411h1v1h-1zM318 410h1v2h-1zM319 407h1v3h-1zM320 372h1v35h-1zM321 309h1v63h-1zM322 269h1v44h-1zM323 312h1v49h-1zM324 361h1v14h-1zM325 375h1v10h-1zM326 385h1v8h-1zM327 393h1v6h-1zM328 399h1v3h-1zM329 402h1v2h-1zM330 404h1v1h-1zM331 405h1v1h-1zM332 406h1v2h-1zM333 408h1v2h-1zM334 410h1v2h-1zM335 412h2v1h-2zM337 413h1v1h-1zM338 414h3v1h-3zM341 413h2v1h-2zM343 414h2v1h-2zM345 415h3v1h-3zM348 414h1v1h-1zM349 413h3v1h-3zM352 414h2v1h-2zM354 415h1v1h-1zM355 416h3v1h-3zM358 415h1v1h-1zM359 416h2v1h-2zM361 415h2v1h-2zM363 416h2v1h-2zM365 415h3v1h-3zM368 416h1v1h-1zM369 417h1v1h-1zM370 416h1v1h-1zM371 415h1v1h-1zM372 416h1v1h-1zM373 417h1v1h-1zM374 416h3v1h-3zM377 415h4v1h-4zM381 416h7v1h-7zM388 417h2v1h-2zM390 416h1v1h-1zM391 417h2v1h-2zM393 416h1v1h-1zM394 415h3v1h-3zM397 416h1v2h-1zM398 417h2v1h-2zM400 416h2v1h-2zM402 417h3v1h-3zM405 418h2v1h-2zM407 417h2v1h-2zM409 418h3v1h-3zM412 417h3v1h-3zM415 416h4v1h-4zM419 417h3v1h-3zM422 416h4v1h-4zM426 417h1v1h-1zM427 416h2v1h-2zM429 417h5v1h-5zM434 416h1v1h-1zM435 415h1v1h-1zM436 416h3v1h-3zM439 417h2v1h-2zM441 418h1v1h-1zM442 417h10v1h-10zM452 418h6v1h-6zM458 417h4v1h-4zM462 418h5v1h-5zM467 417h32v1h-32zM499 416h1v1h-1zM500 412h1v4h-1zM501 410h1v4h-1zM502 412h1v3h-1zM503 415h1v1h-1zM504 416h2v1h-2zM506 417h16v1h-16zM522 416h1v1h-1zM523 417h1v1h-1zM524 418h2v1h-2zM526 417h1v1h-1zM527 418h2v1h-2zM529 417h8v1h-8zM537 416h1v1h-1zM538 417h2v1h-2zM540 416h2v1h-2zM542 415h1v1h-1zM543 405h1v10h-1zM544 393h1v12h-1zM545 398h1v9h-1zM546 405h1v5h-1zM547 410h1v4h-1zM548 412h1v2h-1zM549 414h2v2h-2zM551 416h1v1h-1zM552 417h1v1h-1zM553 416h1v1h-1zM554 417h1v1h-1zM555 416h4v1h-4zM559 417h4v1h-4zM563 416h1v1h-1zM564 417h3v1h-3zM567 416h1v1h-1zM568 417h1v2h-1zM569 418h1v1h-1zM570 417h15v1h-15zM585 418h1v1h-1zM586 417h6v1h-6zM592 418h2v1h-2zM594 417h6v1h-6zM600 418h1v1h-1zM601 417h4v1h-4zM605 418h1v1h-1zM606 417h5v1h-5z"/>
<path fill="#c000ff" d="M152 386h2v1h-2zM154 385h1v1h-1zM155 380h1v5h-1zM156 378h1v2h-1zM157 379h1v1h-1zM158 379h1v2h-1zM159 377h1v2h-1zM160 375h1v2h-1zM161 376h1v1h-1zM162 377h1v4h-1zM163 381h1v2h-1zM164 383h1v2h-1zM165 382h1v1h-1zM166 380h1v2h-1zM167 382h1v2h-1zM168 384h1v2h-1zM169 385h1v1h-1zM170 386h1v1h-1zM171 387h1v7h-1zM172 394h1v3h-1zM173 391h1v3h-1zM174 389h1v2h-1zM175 391h1v4h-1zM176 395h1v2h-1zM177 393h1v2h-1zM178 392h1v1h-1zM179 393h1v5h-1zM180 398h1v2h-1zM181 398h1v1h-1zM182 397h1v1h-1zM183 398h1v2h-1zM184 400h1v6h-1zM185 406h1v9h-1zM186 415h1v4h-1zM187 407h1v8h-1zM188 403h1v4h-1zM189 402h2v1h-2zM191 401h1v1h-1zM192 400h1v1h-1zM193 401h2v1h-2zM195 400h1v1h-1zM196 401h1v1h-1zM197 402h1v2h-1zM198 404h1v1h-1zM199 403h1v1h-1zM200 402h1v1h-1zM201 401h1v1h-1zM202 400h3v1h-3zM205 401h1v1h-1zM206 402h3v1h-3zM209 403h1v1h-1zM210 403h1v2h-1zM211 401h1v2h-1zM212 399h1v2h-1zM213 400h2v1h-2zM215 399h2v1h-2zM217 400h1v1h-1zM218 401h1v2h-1zM219 401h2v1h-2zM221 399h1v2h-1zM222 398h1v1h-1zM223 399h1v2h-1zM224 401h1v2h-1zM225 401h1v1h-1zM226 401h1v3h-1zM227 403h1v2h-1zM228 404h2v1h-2zM230 403h1v1h-1zM231 402h3v1h-3zM234 401h1v1h-1zM235 400h1v1h-1zM236 399h2v1h-2zM238 400h1v1h-1zM239 401h3v1h-3zM242 402h2v1h-2zM244 403h2v1h-2zM246 402h1v1h-1zM247 401h1v1h-1zM248 400h4v1h-4zM252 399h2v1h-2zM254 400h1v1h-1zM255 401h1v3h-1zM256 398h1v3h-1zM257 396h1v2h-1zM258 397h1v2h-1zM259 399h1v2h-1zM260 401h1v1h-1zM261 402h1v2h-1zM262 400h1v2h-1zM263 399h1v1h-1zM264 400h1v1h-1zM265 401h2v1h-2zM267 400h2v1h-2zM269 399h1v1h-1zM270 398h1v1h-1zM271 399h1v2h-1zM272 401h1v2h-1zM273 399h1v2h-1zM274 398h1v1h-1zM275 399h2v1h-2zM277 400h1v2h-1zM278 402h1v2h-1zM279 404h1v2h-1zM280 405h1v1h-1zM281 406h1v1h-1zM282 405h1v1h-1zM283 403h1v2h-1zM284 401h1v2h-1zM285 402h2v1h-2zM287 403h1v1h-1zM288 404h1v2h-1zM289 406h1v1h-1zM290 407h1v1h-1zM291 408h1v1h-1zM292 407h1v1h-1zM293 406h1v1h-1zM294 405h1v1h-1zM295 403h1v2h-1zM296 404h1v1h-1zM297 403h1v3h-1zM298 399h1v4h-1zM299 383h1v16h-1zM300 355h1v28h-1zM301 340h1v15h-1zM302 350h1v20h-1zM303 370h1v14h-1zM304 384h1v6h-1zM305 390h1v5h-1zM306 395h1v3h-1zM307 398h1v1h-1zM308 399h1v1h-1zM309 400h2v1h-2zM311 401h1v1h-1zM312 402h1v1h-1zM313 401h2v1h-2zM315 402h1v2h-1zM316 399h1v3h-1zM317 397h1v2h-1zM318 394h1v3h-1zM319 392h1v2h-1zM320 309h1v83h-1zM321 147h1v162h-1zM322 65h1v101h-1zM323 165h1v117h-1zM324 282h1v34h-1zM325 316h1v25h-1zM326 341h1v15h-1zM327 356h1v11h-1zM328 367h1v8h-1zM329 375h1v4h-1zM330 379h1v1h-1zM331 380h1v4h-1zM332 384h1v6h-1zM333 390h1v6h-1zM334 396h1v4h-1zM335 400h1v2h-1zM336 402h1v2h-1zM337 404h2v1h-2zM339 403h2v1h-2zM341 404h1v3h-1zM342 407h1v2h-1zM343 409h1v1h-1zM344 410h3v1h-3zM347 409h1v1h-1zM348 407h1v2h-1zM349 406h1v1h-1zM350 407h1v2h-1zM351 409h3v1h-3zM354 410h2v1h-2zM356 411h1v1h-1zM357 412h1v1h-1zM358 410h1v2h-1zM359 409h1v1h-1zM360 408h1v1h-1zM361 409h1v2h-1zM362 411h1v2h-1zM363 409h1v2h-1zM364 407h1v2h-1zM365 409h1v2h-1zM366 411h1v2h-1zM367 412h5v1h-5zM372 413h2v1h-2zM374 412h3v1h-3zM377 411h2v1h-2zM379 412h1v2h-1zM380 414h1v1h-1zM381 413h1v1h-1zM382 412h1v1h-1zM383 413h1v2h-1zM384 413h1v1h-1zM385 412h3v1h-3zM388 413h2v1h-2zM390 412h1v1h-1zM391 413h1v1h-1zM392 414h5v1h-5zM397 413h1v1h-1zM398 412h1v1h-1zM399 411h1v1h-1zM400 412h1v2h-1zM401 414h1v1h-1zM402 413h2v1h-2zM404 414h5v1h-5zM409 413h1v1h-1zM410 414h2v1h-2zM412 415h2v1h-2zM414 414h2v1h-2zM416 413h1v1h-1zM417 414h1v1h-1zM418 415h1v1h-1zM419 414h2v1h-2zM421 415h1v1h-1zM422 413h1v2h-1zM423 412h1v1h-1zM424 413h1v1h-1zM425 414h2v1h-2zM427 415h5v1h-5zM432 414h1v1h-1zM433 413h3v1h-3zM436 414h1v2h-1zM437 415h5v1h-5zM442 414h1v1h-1zM443 413h1v1h-1zM444 414h2v1h-2zM446 415h1v2h-1zM447 416h2v1h-2zM449 415h2v1h-2zM451 416h1v1h-1zM452 415h1v1h-1zM453 414h4v1h-4zM457 415h1v1h-1zM458 416h2v1h-2zM460 415h3v1h-3zM463 414h2v1h-2zM465 415h1v2h-1zM466 417h1v1h-1zM467 416h1v2h-1zM468 415h1v2h-1zM469 414h1v1h-1zM470 415h3v1h-3zM473 416h1v1h-1zM474 415h2v1h-2zM476 416h2v1h-2zM478 417h1v1h-1zM479 416h1v1h-1zM480 415h2v1h-2zM482 414h1v1h-1zM483 413h1v1h-1zM484 414h1v1h-1zM485 415h1v2h-1zM486 415h8v1h-8zM494 414h2v1h-2zM496 415h1v1h-1zM497 416h2v1h-2zM499 412h1v5h-1zM500 405h1v7h-1zM501 401h1v4h-1zM502 405h1v7h-1zM503 411h1v3h-1zM504 414h1v1h-1zM505 413h1v1h-1zM506 414h2v1h-2zM508 415h1v1h-1zM509 414h1v1h-1zM510 415h1v1h-1zM511 416h1v1h-1zM512 415h1v1h-1zM513 416h2v1h-2zM515 415h3v1h-3zM518 416h1v1h-1zM519 415h1v1h-1zM520 414h6v1h-6zM526 415h3v1h-3zM529 414h3v1h-3zM532 415h1v1h-1zM533 416h1v1h-1zM534 415h1v1h-1zM535 414h1v1h-1zM536 413h2v1h-2zM538 414h2v1h-2zM540 413h1v1h-1zM541 414h1v1h-1zM542 413h1v1h-1zM543 384h1v29h-1zM544 356h1v28h-1zM545 368h1v18h-1zM546 386h1v12h-1zM547 398h1v10h-1zM548 408h1v3h-1zM549 410h1v2h-1zM550 411h1v2h-1zM551 413h1v2h-1zM552 414h1v2h-1zM553 412h1v2h-1zM554 413h1v1h-1zM555 412h2v1h-2zM557 413h1v2h-1zM558 413h3v1h-3zM561 414h1v1h-1zM562 415h1v2h-1zM563 415h1v1h-1zM564 414h1v1h-1zM565 413h1v1h-1zM566 414h2v1h-2zM568 415h1v1h-1zM569 416h1v1h-1zM570 415h2v1h-2zM572 416h1v1h-1zM573 415h2v1h-2zM575 416h1v1h-1zM576 415h3v1h-3zM579 416h2v1h-2zM581 415h4v1h-4zM585 414h1v1h-1zM586 415h2v1h-2zM588 416h1v2h-1zM589 415h1v1h-1zM590 414h1v1h-1zM591 415h1v1h-1zM592 416h2v1h-2zM594 415h4v1h-4zM598 416h1v1h-1zM599 417h1v1h-1zM600 416h2v1h-2zM602 414h1v2h-1zM603 416h1v2h-1zM604 415h1v2h-1zM605 414h1v2h-1zM606 414h1v1h-1zM607 413h1v1h-1zM608 414h1v2h-1zM609 416h1v2h-1zM610 417h1v1h-1z"/>
<path fill="#000" d="M112 22h500v1h-500zM112 419h500v1h-500zM112 22h1v398h-1zM611 22h1v398h-1z"/>
<path fill="#ff0000" d="M541 35h49v1h-49z"/>
<path fill="#00c000" d="M541 54h49v1h-49z"/>
<path fill="#0080ff" d="M541 73h49v1h-49z"/>
<path fill="#c000ff" d="M541 92h49v1h-49z"/>
</g>
<g>
<text x="87" y="424">0</text>
<text x="67 77 87" y="380">200</text>
<text x="67 77 87" y="336">400</text>
<text x="67 77 87" y="292">600</text>
<text x="67 77 87" y="248">800</text>
<text x="57 67 77 87" y="203">1000</text>
<text x="57 67 77 87" y="159">1200</text>
<text x="57 67 77 87" y="115">1400</text>
<text x="57 67 77 87" y="71">1600</text>
<text x="57 67 77 87" y="27">1800</text>
<text x="107.8" y="443">0</text>
<text x="173 183" y="443">50</text>
<text x="240 250 260" y="443">100</text>
<text x="311 321 331" y="443">150</text>
<text x="382 392 402" y="443">200</text>
<text x="453 463 473" y="443">250</text>
<text x="525 535 545" y="443">300</text>
<text x="596 606 616" y="443">350</text>
<text x="285 294.2 299.7 310.1 319.8 329.85 339.7 345.2 354.8 364.3 368.2 377.95 387.5 392.5 399.8 409.6 426.4" y="471">Vlnová délka [nm]</text>
<g transform="translate(29 0) rotate(-90)"><text x="-269.7 -264.9 -254.95 -247.4 -237.5 -227.8 -220.1 -215.4 -208.25 -198.5 -193.5 -186.6 -180.5" y="0">intenzita [-]</text></g>
<text x="488.2 497.9 507.3 516.9" y="40">15kV</text>
<text x="488.2 497.9 507.3 516.9" y="59">19kV</text>
<text x="486.8 496.8 506.3 516.25" y="78">22kV</text>
<text x="487 497.1 506.3 516.25" y="97">30kV</text>
</g>
</svg>
</body></html>
